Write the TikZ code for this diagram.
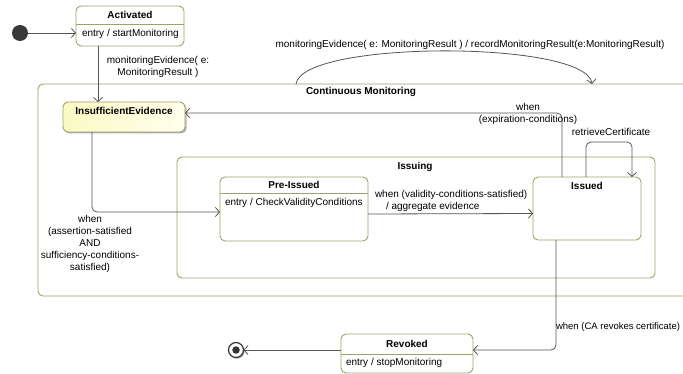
\documentclass[tikz,border=0pt]{standalone}
\usepackage{fontspec}
\setmainfont{Liberation Sans}
\usetikzlibrary{arrows.meta,calc,shadows}
\definecolor{olivebd}{RGB}{160,160,105}
\definecolor{connc}{RGB}{85,85,85}
\definecolor{yelA}{RGB}{250,250,196}
\definecolor{yelB}{RGB}{255,255,238}
\begin{document}
\begin{tikzpicture}[x=1pt,y=-1pt,
  every node/.style={font=\fontsize{10}{12}\selectfont, inner sep=0pt, outer sep=0pt},
  statebox/.style={draw=olivebd, line width=0.9pt, rounded corners=5pt, fill=white, anchor=north west},
  divline/.style={draw=olivebd, line width=0.9pt},
  ttl/.style={font=\fontsize{10}{12}\selectfont\bfseries},
  lbl/.style={align=center},
  conn/.style={draw=connc, line width=0.8pt, -{Straight Barb[length=4pt,width=9pt]}},
  roundconn/.style={conn, rounded corners=5pt}]
\useasboundingbox (0,0) rectangle (683,374);
\fill[white] (0,0) rectangle (683,374);
\clip (0,0) rectangle (683,374);

% composite states
\node[statebox, minimum width=700pt, minimum height=212pt] (cm) at (38,84) {};
\node[ttl] (cmt) at (361,92) {Continuous Monitoring};
\node[statebox, minimum width=478pt, minimum height=121pt] (issuing) at (177,157) {};
\node[ttl] (issuingt) at (415,167) {Issuing};

% initial
\node[circle, fill=black!78, minimum size=16pt] (init) at (20,33) {};

% Activated
\node[statebox, minimum width=108pt, minimum height=40pt] (act) at (76,6) {};
\draw[divline] (76,24) -- (184,24);
\node[ttl] (actt) at (130,15) {Activated};
\node[anchor=west] (acte) at (82,34) {entry / startMonitoring};

% InsufficientEvidence
\node[statebox, left color=yelA, right color=yelB, minimum width=122pt, minimum height=30pt,
      drop shadow={shadow xshift=1.5pt, shadow yshift=-1.5pt, opacity=0.3, fill=black}] (insuff) at (63,102) {};
\node[ttl] (insufft) at (124,111) {InsufficientEvidence};

% Pre-Issued
\node[statebox, minimum width=148pt, minimum height=64pt] (pre) at (220,177) {};
\draw[divline] (220,193) -- (368,193);
\node[ttl] (pret) at (294,185) {Pre-Issued};
\node[anchor=west] (pree) at (225,203) {entry / CheckValidityConditions};

% Issued
\node[statebox, minimum width=108pt, minimum height=63pt] (issued) at (533,177) {};
\node[ttl] (issuedt) at (587,186) {Issued};

% Revoked
\node[statebox, minimum width=132pt, minimum height=39pt] (rev) at (341,334) {};
\draw[divline] (341,354) -- (473,354);
\node[ttl] (revt) at (407,344) {Revoked};
\node[anchor=west] (reve) at (346,363) {entry / stopMonitoring};

% final
\node[circle, draw=black!80, line width=1.2pt, fill=white, minimum size=15pt,
      drop shadow={shadow xshift=1.2pt, shadow yshift=-1.2pt, opacity=0.3, fill=black}] (fin) at (236,350) {};
\node[circle, fill=black!80, minimum size=7.5pt] (findot) at (fin) {};

% connectors
\draw[conn] (init) -- (init -| act.west);

\coordinate (a1) at ($(act.south west)+(22,0)$);
\draw[conn] (a1) -- (a1 |- insuff.north);
\node[lbl] (l1) at (158,67) {monitoringEvidence( e:\\MonitoringResult )};

\coordinate (s1) at ($(cm.north west)+(258,0)$);
\coordinate (s2) at ($(cm.north west)+(554,0)$);
\draw[conn] (s1) .. controls ($(s1)+(6,-44)$) and ($(s2)+(-6,-44)$) .. (s2);
\node[lbl] (l2) at (470,45) {monitoringEvidence( e: MonitoringResult ) / recordMonitoringResult(e:MonitoringResult)};

\coordinate (e1) at ($(issued.north west)+(29,0)$);
\coordinate (e2) at ($(insuff.east)+(0,-4)$);
\draw[roundconn] (e1) |- (e2);
\node[lbl] (l3) at (528,114) {when\\(expiration-conditions)};

\coordinate (b1) at ($(insuff.south west)+(29,0)$);
\coordinate (b2) at ($(pre.west)+(0,3)$);
\draw[roundconn] (b1) |- (b2);
\node[lbl] (l4) at (90,244) {when\\(assertion-satisfied\\AND\\sufficiency-conditions-\\satisfied)};

\draw[conn] ($(pre.east)+(0,5)$) -- ($(issued.west)+(0,5)$);
\node[align=left, anchor=west] (l5) at (375,201) {when (validity-conditions-satisfied)\\\hspace*{11pt}/ aggregate evidence};

\coordinate (r1) at ($(issued.north west)+(53,0)$);
\coordinate (r2) at ($(issued.north west)+(99,0)$);
\draw[roundconn] (r1) -- ++(0,-35) -| (r2);
\node[lbl] (l6) at (611,132) {retrieveCertificate};

\coordinate (v1) at ($(issued.south west)+(23,0)$);
\coordinate (v2) at ($(rev.east)+(0,-3.5)$);
\draw[roundconn] (v1) |- (v2);
\node[anchor=west, font=\fontsize{9.5}{12}\selectfont] (l7) at (556,327) {when (CA revokes certificate)};

\draw[conn] ($(rev.west)+(0,-3.5)$) -- (fin);
\end{tikzpicture}
\end{document}
